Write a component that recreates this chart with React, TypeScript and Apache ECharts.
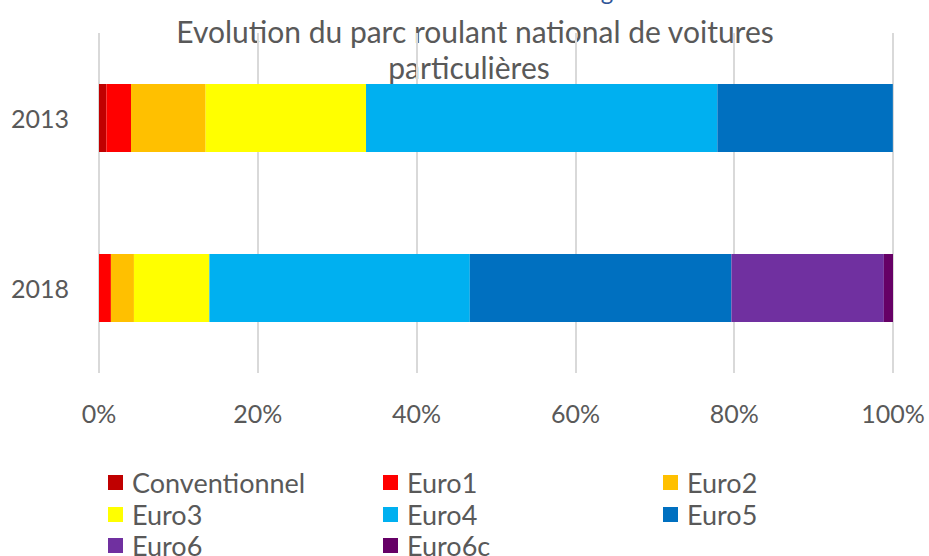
import React, { useEffect, useRef } from "react";
import * as echarts from "echarts";

const years = ["2013", "2018"];
const seriesNames = ["Conventionnel", "Euro1", "Euro2", "Euro3", "Euro4", "Euro5", "Euro6", "Euro6c"];
const conventionnel = [0.93, 0];
const euro1 = [3.1, 1.5];
const euro2 = [9.4, 2.9];
const euro3 = [20.2, 9.5];
const euro4 = [44.25, 32.8];
const euro5 = [22.1, 32.95];
const euro6 = [0, 19.2];
const euro6c = [0, 1.15];
const xTicks = [0, 20, 40, 60, 80, 100];
const titleLines = ["Evolution du parc roulant national de voitures", "particulières"];

const colors = ["#C00000", "#FF0000", "#FFC000", "#FFFF00", "#00B0F0", "#0070C0", "#7030A0", "#660066"];
const allData = [conventionnel, euro1, euro2, euro3, euro4, euro5, euro6, euro6c];

const FONT = "Lato, 'Open Sans', sans-serif";
const GREY = "#595959";

export default function App() {
  const ref = useRef<HTMLDivElement>(null);
  useEffect(() => {
    if (!ref.current) return;
    const chart = echarts.init(ref.current, undefined, { renderer: "svg" });
    const legendPos = [
      [108, 483], [383, 483], [663, 483],
      [108, 515], [383, 515], [663, 515],
      [108, 546], [383, 546],
    ];
    chart.setOption({
      animation: false,
      textStyle: { fontFamily: FONT },
      grid: { left: 99, right: 36, top: 33, bottom: 183, containLabel: false },
      xAxis: {
        type: "value",
        min: xTicks[0],
        max: xTicks[xTicks.length - 1],
        interval: 20,
        axisLine: { show: false },
        axisTick: { show: false },
        splitLine: { show: true, lineStyle: { color: "#D9D9D9", width: 2 } },
        axisLabel: { formatter: "{value}%", color: GREY, fontSize: 25, fontFamily: FONT, margin: 27 },
      },
      yAxis: {
        type: "category",
        data: years,
        inverse: true,
        axisLine: { show: false },
        axisTick: { show: false },
        axisLabel: { color: GREY, fontSize: 25, fontFamily: FONT, margin: 30 },
      },
      legend: seriesNames.map((name, i) => ({
        data: [name],
        left: legendPos[i][0],
        top: legendPos[i][1] - 14,
        padding: 0,
        icon: "rect",
        itemWidth: 15,
        itemHeight: 15,
        selectedMode: false,
        textStyle: { color: GREY, fontSize: 27, fontFamily: FONT, padding: [0, 0, 0, 4] },
      })),
      graphic: [
        {
          type: "text",
          style: {
            text: titleLines[0],
            x: 475,
            y: 31,
            align: "center",
            verticalAlign: "middle",
            fill: GREY,
            font: `30px ${FONT}`,
          },
        },
        {
          type: "text",
          style: {
            text: titleLines[1],
            x: 469,
            y: 67,
            align: "center",
            verticalAlign: "middle",
            fill: GREY,
            font: `30px ${FONT}`,
          },
        },
        {
          type: "text",
          style: {
            text: "g",
            x: 607,
            y: -22,
            align: "center",
            verticalAlign: "top",
            fill: "#2F5597",
            font: `24px ${FONT}`,
          },
        },
      ],
      series: seriesNames.map((name, i) => ({
        name,
        type: "bar",
        stack: "total",
        barWidth: "40%",
        itemStyle: { color: colors[i] },
        data: allData[i],
      })),
    });
    return () => chart.dispose();
  }, []);
  return <div ref={ref} style={{ width: 929, height: 556, position: "absolute", left: 0, top: 0 }} />;
}
